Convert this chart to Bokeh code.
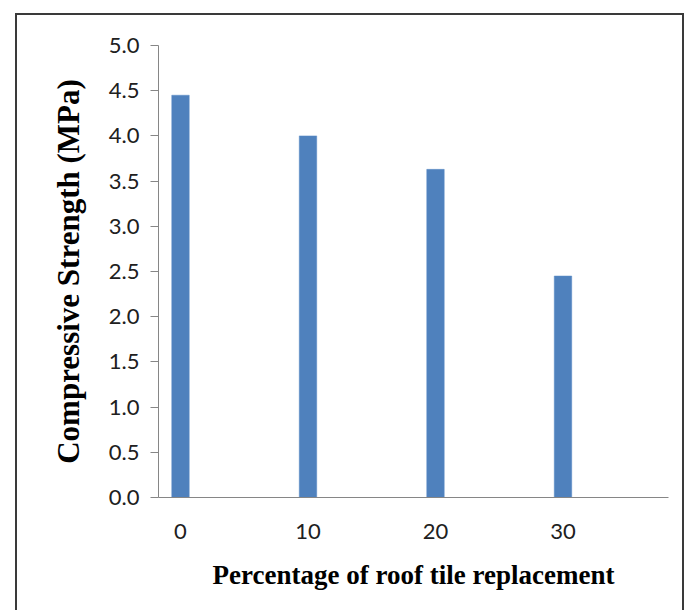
from bokeh.plotting import figure
from bokeh.models import Range1d, FixedTicker, ColumnDataSource
from bokeh.embed import file_html
from bokeh.resources import INLINE

categories = ["0", "10", "20", "30"]
strength = [4.45, 4.0, 3.63, 2.45]
y_ticks = [0.0, 0.5, 1.0, 1.5, 2.0, 2.5, 3.0, 3.5, 4.0, 4.5, 5.0]

xs = list(range(len(categories)))
src = ColumnDataSource(dict(x=xs, top=strength))

p = figure(frame_width=510, frame_height=452,
           min_border_left=141, min_border_right=14,
           min_border_top=30, min_border_bottom=113,
           x_range=Range1d(-0.1725, 3.8275), y_range=Range1d(0, 5),
           output_backend="svg", toolbar_location=None)

p.styles = {"margin-left": "15px", "margin-top": "13px",
            "border-left": "2px solid #3a3a3a",
            "border-top": "2px solid #3a3a3a",
            "border-right": "2px solid #3a3a3a"}

p.vbar(x="x", top="top", width=0.137, source=src,
       fill_color="#4F81BD", line_color="#5B8CC6", line_width=0.5)

p.grid.visible = False
p.outline_line_color = None
p.background_fill_color = "white"
p.border_fill_color = "white"

ax = p.xaxis[0]
ax.ticker = FixedTicker(ticks=xs)
ax.major_label_overrides = {i: c for i, c in zip(xs, categories)}
ax.major_tick_out = 0
ax.major_tick_in = 0
ax.minor_tick_out = 0
ax.minor_tick_in = 0
ax.axis_line_color = "#868686"
ax.major_label_text_font = "Lato"
ax.major_label_text_font_size = "22px"
ax.major_label_text_color = "#202020"
ax.major_label_standoff = 26
ax.axis_label = "Percentage of roof tile replacement"
ax.axis_label_text_font = "Liberation Serif"
ax.axis_label_text_font_style = "bold"
ax.axis_label_text_font_size = "27px"
ax.axis_label_text_color = "black"
ax.axis_label_standoff = 18

ay = p.yaxis[0]
ay.ticker = FixedTicker(ticks=y_ticks)
ay.major_label_overrides = {t: f"{t:.1f}" for t in y_ticks}
ay.major_tick_out = 8
ay.major_tick_in = 0
ay.minor_tick_out = 0
ay.minor_tick_in = 0
ay.axis_line_color = "#868686"
ay.major_tick_line_color = "#868686"
ay.major_label_text_font = "Lato"
ay.major_label_text_font_size = "22px"
ay.major_label_text_color = "#202020"
ay.major_label_standoff = 11
ay.axis_label = "Compressive Strength (MPa)"
ay.axis_label_text_font = "Liberation Serif"
ay.axis_label_text_font_style = "bold"
ay.axis_label_text_font_size = "31px"
ay.axis_label_text_color = "black"
ay.axis_label_standoff = 20

open("out.html", "w").write(file_html(p, INLINE))
